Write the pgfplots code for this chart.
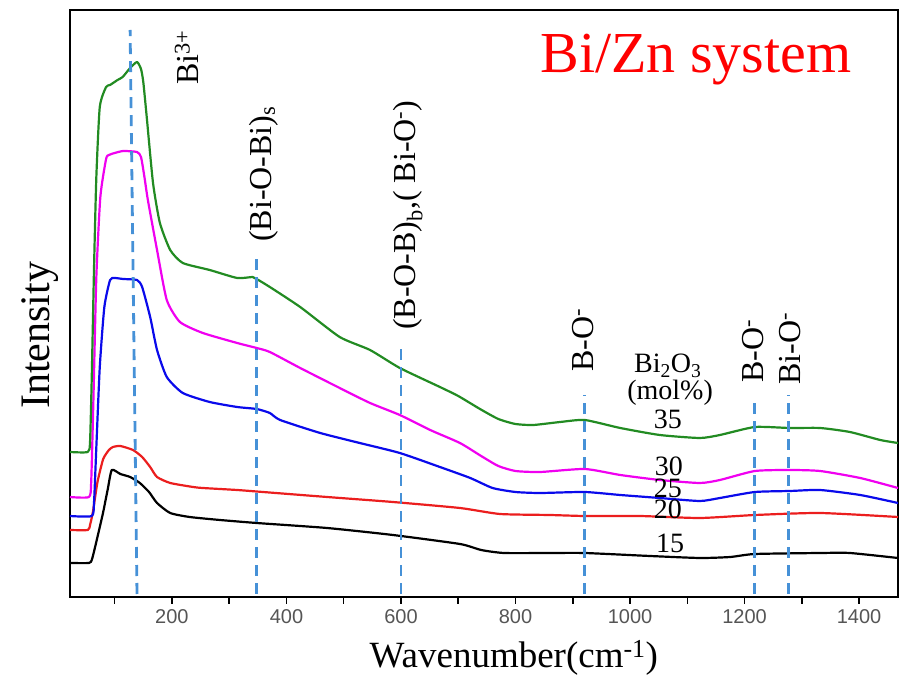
\documentclass[border=0pt]{standalone}
\usepackage{fontspec}
\setmainfont{Liberation Serif}
\newfontfamily\tickfont{Liberation Sans}
\usepackage{pgfplots}
\pgfplotsset{compat=1.18}
\definecolor{cgreen}{RGB}{34,139,34}
\definecolor{cmag}{RGB}{240,0,240}
\definecolor{cblue}{RGB}{10,10,235}
\definecolor{cred}{RGB}{235,30,30}
\definecolor{cdash}{RGB}{70,145,215}
\definecolor{tickgray}{RGB}{85,85,85}
\tikzset{curve/.style={no marks, line width=2.2pt, line join=round, solid, smooth, tension=0.35},
  vline/.style={no marks, cdash, line width=2.8pt, dash pattern=on 11pt off 7pt}}
\pgfplotstableread{
x y
22 145
53 145
57 155
60 220
64 330
68 420
74 490
85 510
92 512
105 517
114 520
127 529
139 535
146 528
150 515
156 480
167 414
179 374
197 347
219 334
266 327
314 319
341 320
348 318
371 310
424 290
493 260
546 247
598 229
668 210
700 201
738 188
770 178
800 173
831 172
878 175
921 177
983 169
1052 162
1122 159
1157 162
1218 170
1279 169
1332 169
1384 165
1437 157
1468 154
}\tgreen
\pgfplotstableread{
x y
22 100
55 100
59 115
63 200
68 320
75 400
85 438
90 442
100 444
115 446
139 445
146 440
152 420
158 397
174 347
191 297
214 275
254 264
314 254
348 249
371 245
424 229
493 209
546 194
598 182
651 167
703 154
740 141
770 131
800 126
843 125
921 128
983 122
1052 117
1122 114
1157 117
1218 126
1279 127
1332 126
1402 119
1468 109
}\tmag
\pgfplotstableread{
x y
22 81
60 81
64 95
68 150
74 230
82 290
92 317
100 319
115 318
139 317
148 310
162 280
174 247
191 220
219 204
266 195
314 190
348 188
371 184
389 177
459 164
528 154
598 144
668 130
721 119
760 109
800 105
843 104
921 105
983 102
1052 99
1122 96
1157 99
1218 105
1279 106
1332 107
1402 102
1468 94
}\tblue
\pgfplotstableread{
x y
22 67
53 67
57 72
62 85
70 115
80 138
90 147
97 150
110 151
132 147
148 140
162 130
174 120
197 114
237 110
254 109
314 107
359 105
471 100
586 95
703 89
773 83
860 82
921 81
1017 81
1122 79
1218 82
1332 84
1468 80
}\tred
\pgfplotstableread{
x y
22 34
55 34
60 37
65 48
72 65
80 85
88 108
95 127
110 123
127 120
144 114
160 105
174 94
197 84
231 80
284 77
348 74
471 69
586 62
703 53
740 47
780 44
860 44
921 44
1035 41
1122 39
1175 40
1218 43
1332 44
1384 44
1468 39
}\tblack
\begin{document}
\begin{tikzpicture}
\begin{axis}[
  scale only axis,
  width=828pt, height=587pt,
  xmin=22, xmax=1468, ymin=0, ymax=587,
  axis line style={line width=2.5pt},
  xtick={200,400,...,1400},
  minor xtick={100,300,...,1300},
  xtick pos=bottom,
  tick align=outside,
  major tick length=7pt, minor tick length=7pt,
  every tick/.style={black, line width=1.5pt},
  ytick=\empty,
  /pgf/number format/assume math mode=true,
  /pgf/number format/set thousands separator={},
  xticklabel style={font=\tickfont\fontsize{20}{20}\selectfont, text=tickgray, yshift=-2pt},
  clip=false,
]
\addplot[curve, black] table {\tblack};
\addplot[curve, cred] table {\tred};
\addplot[curve, cblue] table {\tblue};
\addplot[curve, cmag] table {\tmag};
\addplot[curve, cgreen] table {\tgreen};
\addplot[vline] coordinates {(139,3) (127,567)};
\addplot[vline] coordinates {(348,3) (348,344)};
\addplot[vline] coordinates {(600,3) (600,254)};
\addplot[vline] coordinates {(921,3) (921,202)};
\addplot[vline] coordinates {(1218,3) (1218,199)};
\addplot[vline] coordinates {(1277,3) (1277,202)};
\node[red, font=\fontsize{58}{60}\selectfont, anchor=base] at (axis cs:1115,524) {Bi/Zn system};
\begin{scope}[every node/.style={font=\fontsize{32}{34}\selectfont, inner sep=0pt}]
\node[rotate=90, anchor=west] at (axis cs:226,512) {Bi\textsuperscript{3+}};
\node[rotate=90, anchor=west] at (axis cs:360,355) {(Bi-O-Bi)\textsubscript{s}};
\node[rotate=90, anchor=west] at (axis cs:612,267) {(B-O-B)\textsubscript{b},( Bi-O\textsuperscript{-})};
\node[rotate=90, anchor=west] at (axis cs:918,225) {B-O\textsuperscript{-}};
\node[rotate=90, anchor=west] at (axis cs:1215,214) {B-O\textsuperscript{-}};
\node[rotate=90, anchor=west] at (axis cs:1279,212) {Bi-O\textsuperscript{-}};
\end{scope}
\begin{scope}[every node/.style={font=\fontsize{28}{30}\selectfont, inner sep=0pt}]
\node at (axis cs:1066,231) {Bi\textsubscript{2}O\textsubscript{3}};
\node at (axis cs:1070,204) {(mol\%)};
\node at (axis cs:1066,178) {35};
\node at (axis cs:1068,131) {30};
\node at (axis cs:1066,109) {25};
\node at (axis cs:1066,88) {20};
\node at (axis cs:1070,54) {15};
\end{scope}
\node[rotate=90, anchor=base, font=\fontsize{42}{44}\selectfont] at ([xshift=-20pt]rel axis cs:0,0.446) {Intensity};
\node[anchor=base, font=\fontsize{37}{40}\selectfont] at ([yshift=-70pt]rel axis cs:0.536,0) {Wavenumber(cm\textsuperscript{-1})};
\end{axis}
\pgfresetboundingbox
\useasboundingbox (-70pt,-80pt) rectangle (835pt,597pt);
\end{tikzpicture}
\end{document}
